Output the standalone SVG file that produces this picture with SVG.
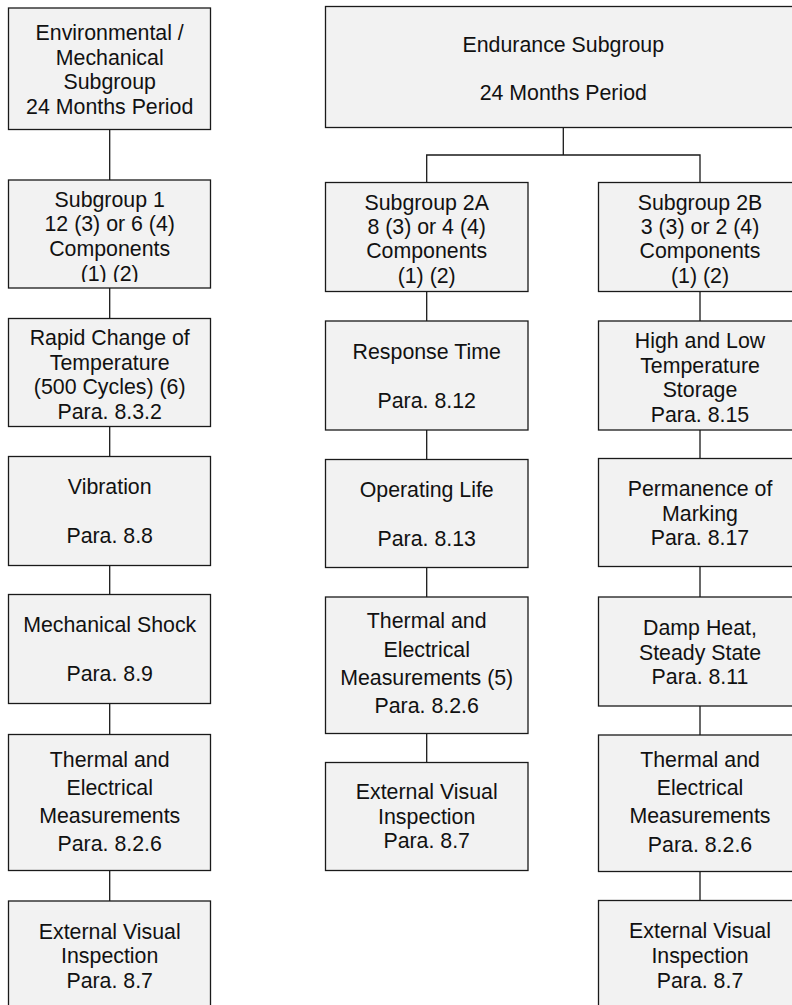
<svg xmlns="http://www.w3.org/2000/svg" width="792" height="1005" viewBox="0 0 792 1005">
<style>
.box{fill:#f2f2f2;stroke:#1a1a1a;stroke-width:1.3}
.t{font-family:"Liberation Sans",Arial,sans-serif;font-size:21.33px;fill:#111;text-anchor:middle}
.c{fill:none;stroke:#1a1a1a;stroke-width:1.3}
</style>
<defs>
<clipPath id="clipL2"><rect x="8" y="180" width="203" height="102"/></clipPath>
</defs>
<rect width="792" height="1005" fill="#fff"/>
<g id="connectors">
<path class="c" d="M109.7 129.5V180M109.7 288V318.5M109.7 426.5V456.5M109.7 565.5V594.5M109.7 703.5V734.5M109.7 870.5V901"/>
<path class="c" d="M563.3 127.5V155M426.7 182.5V155H700V182.5"/>
<path class="c" d="M426.7 291.5V321M426.7 430V459.5M426.7 567.5V597M426.7 733.5V762.5"/>
<path class="c" d="M700 291.5V321M700 430V458.5M700 566.5V597M700 706V735M700 871.5V900.5"/>
</g>
<g id="env">
<rect class="box" x="8.5" y="8" width="202" height="121.5"/>
<text class="t" x="109.7" y="40">Environmental /</text>
<text class="t" x="109.7" y="64.7">Mechanical</text>
<text class="t" x="109.7" y="89">Subgroup</text>
<text class="t" x="109.7" y="114">24 Months Period</text>
</g>
<g id="sub1">
<rect class="box" x="8.5" y="180" width="202" height="108"/>
<g clip-path="url(#clipL2)">
<text class="t" x="109.7" y="206.7">Subgroup 1</text>
<text class="t" x="109.7" y="231.2">12 (3) or 6 (4)</text>
<text class="t" x="109.7" y="255.5">Components</text>
<text class="t" x="109.7" y="280.5">(1) (2)</text>
</g>
</g>
<g id="rapid">
<rect class="box" x="8.5" y="318.5" width="202" height="108"/>
<text class="t" x="109.7" y="345">Rapid Change of</text>
<text class="t" x="109.7" y="369.5">Temperature</text>
<text class="t" x="109.7" y="394">(500 Cycles) (6)</text>
<text class="t" x="109.7" y="418.7">Para. 8.3.2</text>
</g>
<g id="vibration">
<rect class="box" x="8.5" y="456.5" width="202" height="109"/>
<text class="t" x="109.7" y="494">Vibration</text>
<text class="t" x="109.7" y="543">Para. 8.8</text>
</g>
<g id="shock">
<rect class="box" x="8.5" y="594.5" width="202" height="109"/>
<text class="t" x="109.7" y="632">Mechanical Shock</text>
<text class="t" x="109.7" y="681">Para. 8.9</text>
</g>
<g id="thermal1">
<rect class="box" x="8.5" y="734.5" width="202" height="136"/>
<text class="t" x="109.7" y="766.5">Thermal and</text>
<text class="t" x="109.7" y="794.5">Electrical</text>
<text class="t" x="109.7" y="822.5">Measurements</text>
<text class="t" x="109.7" y="850.5">Para. 8.2.6</text>
</g>
<g id="visual1">
<rect class="box" x="8.5" y="901" width="202" height="120"/>
<text class="t" x="109.7" y="939">External Visual</text>
<text class="t" x="109.7" y="963">Inspection</text>
<text class="t" x="109.7" y="987.5">Para. 8.7</text>
</g>
<g id="endurance">
<rect class="box" x="325.5" y="6.5" width="476" height="121"/>
<text class="t" x="563.3" y="51.5">Endurance Subgroup</text>
<text class="t" x="563.3" y="100">24 Months Period</text>
</g>
<g id="sub2a">
<rect class="box" x="325.5" y="182.5" width="202.5" height="109"/>
<text class="t" x="426.7" y="210">Subgroup 2A</text>
<text class="t" x="426.7" y="234">8 (3) or 4 (4)</text>
<text class="t" x="426.7" y="258.3">Components</text>
<text class="t" x="426.7" y="282.7">(1) (2)</text>
</g>
<g id="response">
<rect class="box" x="325.5" y="321" width="202.5" height="109"/>
<text class="t" x="426.7" y="359">Response Time</text>
<text class="t" x="426.7" y="408">Para. 8.12</text>
</g>
<g id="operating">
<rect class="box" x="325.5" y="459.5" width="202.5" height="108"/>
<text class="t" x="426.7" y="496.5">Operating Life</text>
<text class="t" x="426.7" y="545.7">Para. 8.13</text>
</g>
<g id="thermal2a">
<rect class="box" x="325.5" y="597" width="202.5" height="136.5"/>
<text class="t" x="426.7" y="628.3">Thermal and</text>
<text class="t" x="426.7" y="656.5">Electrical</text>
<text class="t" x="426.7" y="684.8">Measurements (5)</text>
<text class="t" x="426.7" y="713">Para. 8.2.6</text>
</g>
<g id="visual2a">
<rect class="box" x="325.5" y="762.5" width="202.5" height="108"/>
<text class="t" x="426.7" y="799.3">External Visual</text>
<text class="t" x="426.7" y="823.5">Inspection</text>
<text class="t" x="426.7" y="848.3">Para. 8.7</text>
</g>
<g id="sub2b">
<rect class="box" x="598.5" y="182.5" width="203" height="109"/>
<text class="t" x="700" y="210">Subgroup 2B</text>
<text class="t" x="700" y="234">3 (3) or 2 (4)</text>
<text class="t" x="700" y="258.3">Components</text>
<text class="t" x="700" y="282.7">(1) (2)</text>
</g>
<g id="storage">
<rect class="box" x="598.5" y="321" width="203" height="109"/>
<text class="t" x="700" y="348.3">High and Low</text>
<text class="t" x="700" y="372.7">Temperature</text>
<text class="t" x="700" y="397">Storage</text>
<text class="t" x="700" y="421.5">Para. 8.15</text>
</g>
<g id="marking">
<rect class="box" x="598.5" y="458.5" width="203" height="108"/>
<text class="t" x="700" y="496">Permanence of</text>
<text class="t" x="700" y="520.5">Marking</text>
<text class="t" x="700" y="545">Para. 8.17</text>
</g>
<g id="damp">
<rect class="box" x="598.5" y="597" width="203" height="109"/>
<text class="t" x="700" y="635">Damp Heat,</text>
<text class="t" x="700" y="659.5">Steady State</text>
<text class="t" x="700" y="684">Para. 8.11</text>
</g>
<g id="thermal2b">
<rect class="box" x="598.5" y="735" width="203" height="136.5"/>
<text class="t" x="700" y="767.3">Thermal and</text>
<text class="t" x="700" y="795.3">Electrical</text>
<text class="t" x="700" y="823.3">Measurements</text>
<text class="t" x="700" y="851.5">Para. 8.2.6</text>
</g>
<g id="visual2b">
<rect class="box" x="598.5" y="900.5" width="203" height="120"/>
<text class="t" x="700" y="938.3">External Visual</text>
<text class="t" x="700" y="962.7">Inspection</text>
<text class="t" x="700" y="987.5">Para. 8.7</text>
</g>
</svg>
